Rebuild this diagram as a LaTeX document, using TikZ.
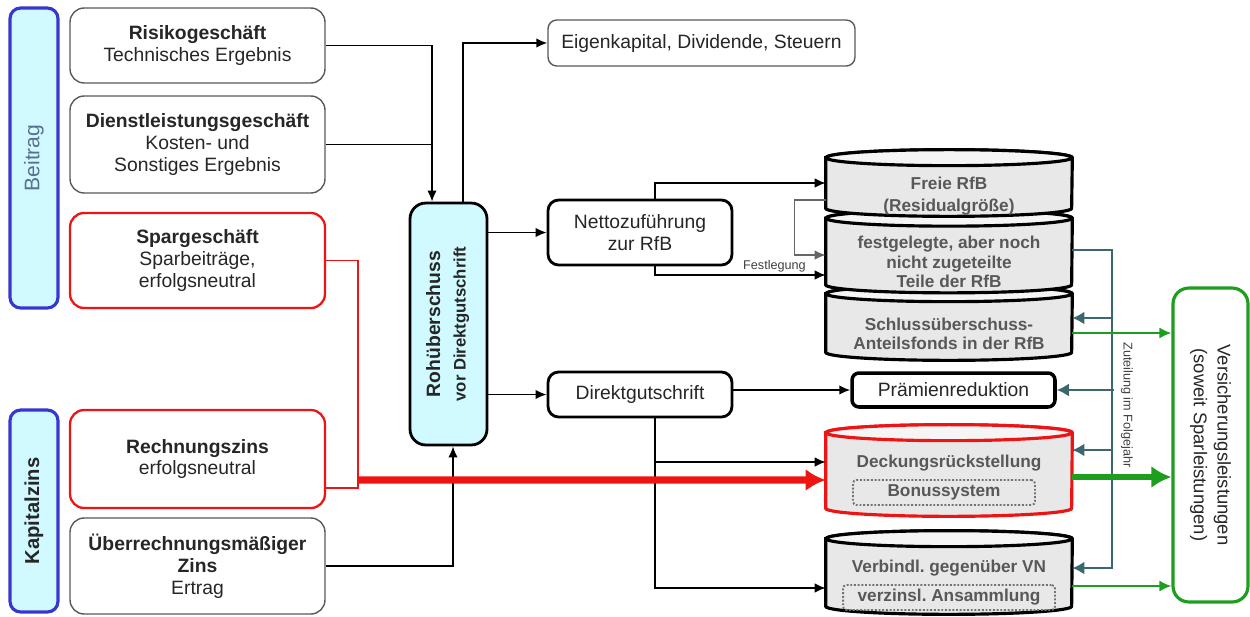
\documentclass[tikz,border=0pt]{standalone}
\usepackage{fontspec}
\setmainfont{Liberation Sans}
\usetikzlibrary{arrows.meta, positioning}
\definecolor{ccyan}{RGB}{208,250,255}
\definecolor{cblue}{RGB}{55,55,205}
\definecolor{cred}{RGB}{238,20,20}
\definecolor{cteal}{RGB}{58,104,110}
\definecolor{cgreen}{RGB}{30,158,30}
\definecolor{cgray}{RGB}{232,232,232}
\definecolor{cgraytext}{RGB}{88,88,88}
\definecolor{cbtext}{RGB}{88,112,142}

% Zylinder um einen (unsichtbaren) Knoten zeichnen: #1 Knoten, #2 Farbe
\newcommand{\drawtank}[2]{%
    \path[draw=#2, line width=1.8pt, fill=cgray]
        ([yshift=-0.16cm]#1.north west) -- ([yshift=0.16cm]#1.south west)
        arc[start angle=180, end angle=360, x radius=2.46cm, y radius=0.16cm]
        -- ([yshift=-0.16cm]#1.north east)
        arc[start angle=0, end angle=180, x radius=2.46cm, y radius=0.16cm] -- cycle;
    \path[draw=#2, line width=1.8pt, fill=cgray!45]
        ([yshift=-0.16cm]#1.north) ellipse[x radius=2.46cm, y radius=0.16cm];
}

\begin{document}
\begin{tikzpicture}[
    x=0.02cm, y=-0.02cm,
    >={Latex[length=2.2mm, width=1.9mm]},
    every node/.style={font=\fontsize{11}{12.5}\selectfont, align=center, text=black!85},
    sidebar/.style={draw=cblue, line width=1.8pt, fill=ccyan, rounded corners=6pt, minimum width=0.96cm, inner sep=0pt},
    srcbox/.style={draw=black!65, line width=0.8pt, rounded corners=8pt, fill=white, minimum width=5.1cm, inner sep=1pt},
    sparbox/.style={srcbox, draw=cred, line width=1.3pt},
    flowbox/.style={draw=black, line width=1.6pt, rounded corners=6pt, fill=white, minimum width=3.68cm, inner sep=1pt},
    tank/.style={rectangle, minimum width=4.92cm, inner sep=0pt},
    tanktext/.style={text=cgraytext, font=\fontsize{9.8}{11}\selectfont\bfseries},
    subbox/.style={draw=black!55, densely dotted, line width=1.1pt, rounded corners=2pt, minimum height=0.5cm,
        inner sep=0pt, text=cgraytext, font=\fontsize{9.8}{11}\selectfont\bfseries},
    tinylabel/.style={font=\fontsize{7.2}{8}\selectfont, text=black!75},
    flow/.style={->, line width=0.9pt},
    feed/.style={-{Latex[length=2.4mm, width=2.6mm]}, line width=1.3pt, cteal},
    payout/.style={-{Latex[length=2.4mm, width=2.2mm]}, line width=1.1pt, cgreen},
]
    \useasboundingbox (0,0) rectangle (1250,616);

    % Beitrag und Kapitalzins
    \node[sidebar, minimum height=6cm] (beitrag) at (34,158)
        {\rotatebox{90}{\fontsize{12}{14}\selectfont\color{cbtext}Beitrag}};
    \node[sidebar, minimum height=4.04cm] (kapzins) at (34,511)
        {\rotatebox{90}{\fontsize{11.5}{14}\selectfont\bfseries Kapitalzins}};

    % Ergebnisquellen
    \node[srcbox, minimum height=1.5cm] (risiko) at (197.5,45.5) {\textbf{Risikogeschäft}\\Technisches Ergebnis};
    \node[srcbox, minimum height=1.94cm] (dienst) at (197.5,144.5) {\textbf{Dienstleistungsgeschäft}\\Kosten- und\\Sonstiges Ergebnis};
    \node[sparbox, minimum height=1.9cm] (spar) at (197.5,260.5) {\textbf{Spargeschäft}\\Sparbeiträge,\\erfolgsneutral};
    \node[sparbox, minimum height=1.96cm] (rechzins) at (197.5,459) {\textbf{Rechnungszins}\\erfolgsneutral};
    \node[srcbox, minimum height=1.92cm] (ueberzins) at (197.5,566) {\textbf{Überrechnungsmäßiger}\\\textbf{Zins}\\Ertrag};

    % Rohueberschuss
    \node[flowbox, fill=ccyan, minimum width=1.54cm, minimum height=4.84cm, rounded corners=9pt] (roh) at (448.5,324)
        {\rotatebox{90}{\begin{tabular}{@{}c@{}}\bfseries Rohüberschuss\\[2pt]\fontsize{9.5}{11}\selectfont\bfseries vor Direktgutschrift\end{tabular}}};

    % Verwendung
    \node[flowbox, minimum width=6.14cm, minimum height=0.92cm, line width=0.8pt, draw=black!65, rounded corners=5pt] (eigen) at (701.5,43) {Eigenkapital, Dividende, Steuern};
    \node[flowbox, minimum height=1.3cm] (netto) at (640,232.5) {Nettozuführung\\zur RfB};
    \node[flowbox, minimum height=0.9cm] (direkt) at (640,394.5) {Direktgutschrift};

    % RfB-Stapel
    \node[tank, minimum height=1.48cm] (schluss) at (949,323) {};
    \node[tank, minimum height=1.64cm] (festg) at (949,251.5) {};
    \node[tank, minimum height=1.32cm] (freie) at (949,183) {};
    \drawtank{schluss}{black}
    \drawtank{festg}{black}
    \drawtank{freie}{black}
    \node[tanktext] (freietxt) at (949,196) {Freie RfB\\[2pt](Residualgröße)};
    \node[tanktext] (festgtxt) at (949,262) {festgelegte, aber noch\\nicht zugeteilte\\Teile der RfB};
    \node[tanktext] (schlusstxt) at (949,334) {Schlussüberschuss-\\Anteilsfonds in der RfB};

    \node[flowbox, minimum width=4.06cm, minimum height=0.68cm, line width=2pt, rounded corners=4pt] (praemie) at (953.5,390) {Prämienreduktion};

    \node[tank, minimum height=1.82cm] (deckung) at (949,470.5) {};
    \drawtank{deckung}{cred}
    \node[tanktext] (decktxt) at (949,463) {Deckungsrückstellung};
    \node[subbox, minimum width=3.64cm] (bonus) at (944,492.5) {Bonussystem};

    \node[tank, minimum height=1.66cm] (verbindl) at (949,572.5) {};
    \drawtank{verbindl}{black}
    \node[tanktext] (verbtxt) at (949,568) {Verbindl.\ gegenüber VN};
    \node[subbox, minimum width=4.24cm] (verzinsl) at (949,597.5) {verzinsl.\ Ansammlung};

    \node[draw=cgreen, line width=1.8pt, rounded corners=9pt, fill=white, minimum width=1.5cm, minimum height=6.28cm, inner sep=0pt] (leistung) at (1210.5,445)
        {\rotatebox{-90}{\fontsize{10.5}{13.5}\selectfont\begin{tabular}{@{}c@{}}Versicherungsleistungen\\(soweit Sparleistungen)\end{tabular}}};
    \node[tinylabel, rotate=-90] (zuteil) at (1127,405) {Zuteilung im Folgejahr};

    % Ergebnisquellen zum Rohueberschuss
    \coordinate (rohin) at ([xshift=-0.33cm]roh.north);
    \draw[flow] (risiko.east) -| (rohin);
    \draw[line width=0.9pt] (dienst.east) -- (dienst.east -| rohin);
    \draw[flow] (ueberzins.east) -| ([xshift=0.09cm]roh.south);

    % Rohueberschuss verteilen
    \draw[flow] ([xshift=0.29cm]roh.north) |- (eigen.west);
    \draw[flow] (roh.east |- netto.west) -- (netto.west);
    \draw[flow] (roh.east |- direkt.west) -- (direkt.west);

    % Nettozufuehrung zur RfB
    \draw[flow] ([xshift=0.3cm]netto.north) |- (freie.west);
    \draw[flow] ([xshift=0.3cm]netto.south) |- ([yshift=-0.47cm]festg.west)
        node[tinylabel, pos=0.85, above, inner sep=1pt] (festl) {Festlegung};
    \draw[->, line width=0.7pt, black!60] ([yshift=-0.34cm]freie.west) -- ++(-31,0) |- ([yshift=-0.07cm]festg.west);

    % Direktgutschrift
    \draw[flow] (direkt.east |- praemie.west) -- (praemie.west);
    \draw[flow] ([xshift=0.3cm]direkt.south) |- ([yshift=0.17cm]deckung.west);
    \draw[flow] ([xshift=0.3cm]direkt.south) |- ([yshift=-0.31cm]verbindl.west);

    % Sparanteil
    \draw[cred, line width=1.1pt] (spar.east) -- ++(32,0) |- ([yshift=-0.58cm]rechzins.east);
    \draw[cred, line width=4pt, -{Latex[length=4mm, width=4.4mm]}] ([xshift=0.64cm, yshift=-0.42cm]rechzins.east) -- ([yshift=-0.19cm]deckung.west);

    % Zuteilung im Folgejahr
    \draw[feed] ([yshift=0.03cm]festg.east) -| ([xshift=0.8cm, yshift=0.09cm]verbindl.east) -- ([yshift=0.09cm]verbindl.east);
    \draw[feed] ([xshift=0.8cm, yshift=0.1cm]schluss.east) -- ([yshift=0.1cm]schluss.east);
    \draw[feed] ([xshift=1.14cm]praemie.east) -- (praemie.east);
    \draw[feed] ([xshift=0.8cm, yshift=0.41cm]deckung.east) -- ([yshift=0.41cm]deckung.east);

    % Versicherungsleistungen
    \draw[payout] ([yshift=-0.2cm]schluss.east) coordinate (g1) -- (g1 -| leistung.west);
    \draw[payout, line width=3pt, -{Latex[length=4mm, width=4.4mm]}] ([yshift=-0.13cm]deckung.east) coordinate (g2) -- (g2 -| leistung.west);
    \draw[payout] ([yshift=-0.27cm]verbindl.east) coordinate (g3) -- (g3 -| leistung.west);
\end{tikzpicture}
\end{document}
